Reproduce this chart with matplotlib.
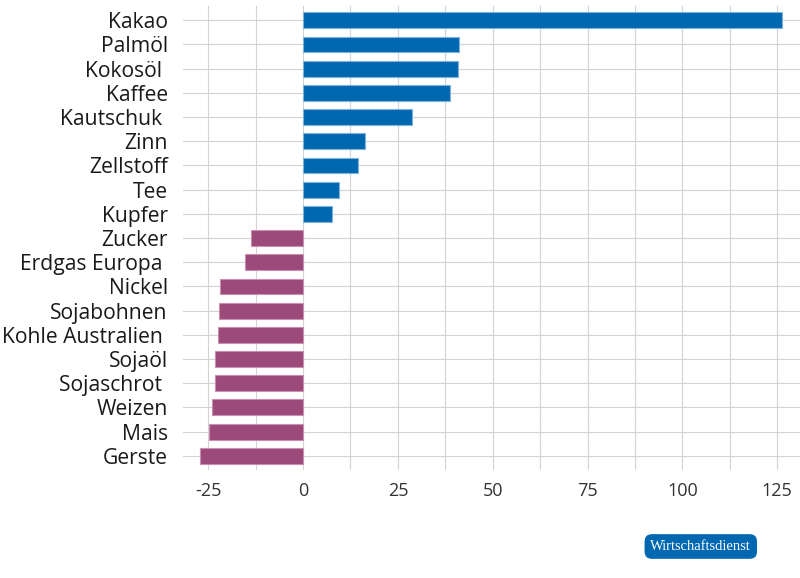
import matplotlib
matplotlib.use('Agg')
import matplotlib.pyplot as plt
import numpy as np

# Daten (Preisänderung in %)
rohstoffe = ['Kakao', 'Palmöl', 'Kokosöl ', 'Kaffee', 'Kautschuk ', 'Zinn', 'Zellstoff', 'Tee',
             'Kupfer', 'Zucker', 'Erdgas Europa ', 'Nickel', 'Sojabohnen', 'Kohle Australien ',
             'Sojaöl', 'Sojaschrot ', 'Weizen', 'Mais', 'Gerste']
werte = [126.3, 41.0, 40.8, 38.7, 28.8, 16.2, 14.4, 9.4, 7.7, -13.7, -15.3, -21.8, -22.1,
         -22.4, -23.1, -23.3, -24.0, -24.7, -27.1]
xticks = [-25, 0, 25, 50, 75, 100, 125]

plt.rcParams['font.family'] = ['Open Sans', 'DejaVu Sans']

fig = plt.figure(figsize=(8, 5.78), dpi=100)
ax = fig.add_axes([0.229, 0.187, 0.771, 0.803])

y = np.arange(len(rohstoffe))
farben = ['#0067b1' if v >= 0 else '#9b4a7a' for v in werte]
kanten = ['#7fb3dc' if v >= 0 else '#c98fb0' for v in werte]
ax.barh(y, werte, height=0.66, color=farben, edgecolor=kanten, linewidth=0.8, zorder=3)

ax.set_ylim(len(rohstoffe) - 0.42, -0.6)
ax.set_xlim(-31.6, 131)
ax.set_yticks(y)
ax.set_yticklabels(rohstoffe, fontsize=15.2, color='#1a1a1a')
ax.set_xticks(xticks)
ax.set_xticklabels([str(t) for t in xticks], fontsize=13, color='#333333')
ax.set_xticks(np.arange(-25, 131, 12.5), minor=True)

ax.grid(True, which='both', axis='x', color='#d3d3d3', linewidth=0.8, zorder=0)
ax.grid(True, axis='y', color='#d3d3d3', linewidth=0.8, zorder=0)
ax.tick_params(axis='both', which='both', length=0)
ax.tick_params(axis='y', pad=11)
ax.tick_params(axis='x', pad=9)
for s in ax.spines.values():
    s.set_visible(False)

fig.text(0.876, 0.0545, 'Wirtschaftsdienst', ha='center', va='center', fontsize=10.5,
         family='Liberation Serif', color='white',
         bbox=dict(boxstyle='round,pad=0.4,rounding_size=0.5', fc='#0067b1', ec='none'))

plt.savefig('out.png', dpi=100)
